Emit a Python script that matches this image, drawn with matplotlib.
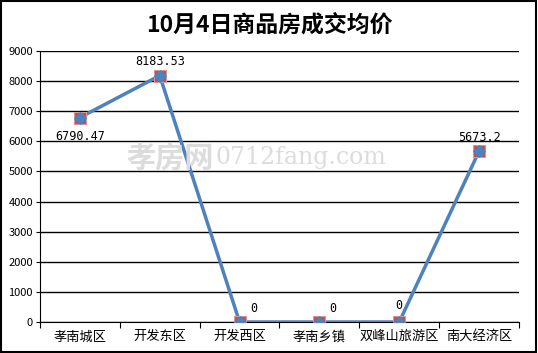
import matplotlib.pyplot as plt
from matplotlib.patches import Rectangle

plt.rcParams['font.family'] = ['Noto Sans CJK SC', 'DejaVu Sans']

categories = ['孝南城区', '开发东区', '开发西区', '孝南乡镇', '双峰山旅游区', '南大经济区']
prices = [6790.47, 8183.53, 0, 0, 0, 5673.2]
labels = ['6790.47', '8183.53', '0', '0', '0', '5673.2']
yticks = list(range(0, 10000, 1000))

fig = plt.figure(figsize=(5.38, 3.53), dpi=100)
ax = fig.add_axes([0.0743, 0.0878, 0.8904, 0.7677])

x = [i + 0.5 for i in range(len(categories))]
ax.plot(x, prices, color='#4F81BD', lw=2.5, zorder=3)
ax.scatter(x, prices, marker='s', s=70, color='#C0504D', edgecolors='#D99694', linewidths=0.8, zorder=4)
ax.scatter(x, prices, marker='D', s=34, color='#4F81BD', zorder=5)

offsets = [(0, -14), (0, 10), (10, 10), (10, 10), (0, 12), (0, 10)]
for xi, yi, lab, off in zip(x, prices, labels, offsets):
    ax.annotate(lab, (xi, yi), xytext=off, textcoords='offset points',
                ha='center', va='center', fontsize=8.5, family='DejaVu Sans Mono')

ax.set_xlim(0, len(categories))
ax.set_ylim(0, 9000)
ax.set_yticks(yticks)
ax.set_yticklabels([str(t) for t in yticks], fontsize=8)
ax.set_xticks(range(len(categories) + 1))
ax.set_xticklabels([])
ax.set_xticks(x, minor=True)
ax.set_xticklabels(categories, minor=True, fontsize=9.5)
ax.tick_params(axis='x', which='minor', length=0, pad=6)
ax.tick_params(axis='x', which='major', length=4, direction='out', color='black')
ax.tick_params(axis='y', length=3, direction='out', pad=2)
ax.yaxis.grid(True, color='black', lw=1)
ax.set_axisbelow(True)
for s in ['top', 'right']:
    ax.spines[s].set_visible(False)
ax.spines['left'].set_color('black')
ax.spines['bottom'].set_color('black')

fig.text(0.5, 0.93, '10月4日商品房成交均价', ha='center', va='center',
         fontsize=16.5, fontweight='bold')

# watermark
fig.text(0.235, 0.555, '孝房网', fontsize=21, color='#dcdcdc', ha='left', va='center',
         fontweight='bold', zorder=0)
fig.text(0.40, 0.555, '0712fang.com', fontsize=17, color='#dcdcdc', ha='left', va='center',
         family='DejaVu Serif', zorder=0)

fig.patches.append(Rectangle((0.002, 0.003), 0.995, 0.993, transform=fig.transFigure,
                             fill=False, edgecolor='black', lw=1.5))

fig.savefig('out.png', dpi=100)
